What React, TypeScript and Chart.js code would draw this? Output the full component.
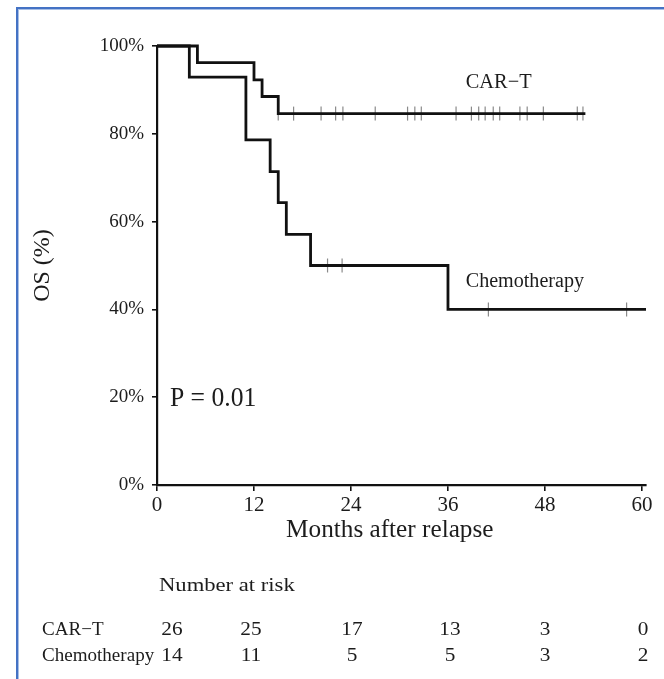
import React, { useEffect, useRef } from "react";
import { Chart, registerables } from "chart.js";

Chart.register(...registerables);

const FONT = "'Liberation Serif', 'Times New Roman', serif";
const INK = "#1c1c1c";

// ---- data ----
const xTickMonths = [0, 12, 24, 36, 48, 60];

const carTTimes = [0, 5, 12, 13, 15, 53];
const carTSurvival = [100, 96.2, 92.3, 88.5, 84.6, 84.6];
const carTCensorTimes = [15, 16.9, 20.3, 22.1, 23.0, 27.0, 31.0, 31.9, 32.7, 37.0, 38.9, 39.8, 40.6, 41.6, 42.4, 44.9, 45.8, 47.8, 52.0, 52.7];

const chemoTimes = [0, 4, 11, 14, 15, 16, 19, 36, 60.5];
const chemoSurvival = [100, 92.9, 78.6, 71.4, 64.3, 57.1, 50.0, 40.0, 40.0];
const chemoCensorTimes = [21.1, 22.9, 41.0, 58.1];

const groupNames = ["CAR\u2212T", "Chemotherapy"];
const carTAtRisk = [26, 25, 17, 13, 3, 0];
const chemoAtRisk = [14, 11, 5, 5, 3, 2];

// ---- layout constants (pixels) ----
const atRiskColumnShift = [15, -3, 1, 2, 0, 1];

function survAt(times: number[], surv: number[], t: number) {
  let s = surv[0];
  for (let i = 0; i < times.length; i++) if (times[i] <= t) s = surv[i];
  return s;
}

const textPlugin = {
  id: "kmText",
  afterDraw(chart: any) {
    const { ctx, chartArea } = chart;
    const xs = chart.scales.x;
    const ys = chart.scales.y;
    const txt = (s: string, x: number, y: number, size: number, sx: number, align: CanvasTextAlign) => {
      ctx.save();
      ctx.font = `${size}px ${FONT}`;
      ctx.fillStyle = INK;
      ctx.textBaseline = "alphabetic";
      ctx.textAlign = align;
      ctx.translate(x, y);
      ctx.scale(sx, 1);
      ctx.fillText(s, 0, 0);
      ctx.restore();
    };
    // curve labels and p-value
    txt(groupNames[0], xs.getPixelForValue(38.2), ys.getPixelForValue(90.4), 21, 0.97, "left");
    txt(groupNames[1], xs.getPixelForValue(38.2), ys.getPixelForValue(45.2), 20.5, 0.98, "left");
    txt("P = 0.01", xs.getPixelForValue(1.6), ys.getPixelForValue(17.9), 27, 0.95, "left");
    // x axis title
    const b = chartArea.bottom;
    txt("Months after relapse", xs.getPixelForValue(28.8), b + 52, 24.5, 1.03, "center");
    // number at risk table
    txt("Number at risk", 159, b + 105.5, 19.5, 1.16, "left");
    const rows = [carTAtRisk, chemoAtRisk];
    const baselines = [b + 150, b + 176];
    rows.forEach((vals, r) => {
      txt(groupNames[r], 42, baselines[r], 18.5, 1.03, "left");
      vals.forEach((v, i) => {
        const x = xs.getPixelForValue(xTickMonths[i]) + atRiskColumnShift[i];
        txt(String(v), x, baselines[r], 18.5, 1.15, "center");
      });
    });
  },
};

export default function App() {
  const ref = useRef<HTMLCanvasElement>(null);

  useEffect(() => {
    const canvas = ref.current;
    if (!canvas) return;

    const curve = (times: number[], surv: number[]) =>
      times.map((t, i) => ({ x: t, y: surv[i] }));
    const censor = (ct: number[], times: number[], surv: number[]) =>
      ct.map((t) => ({ x: t, y: survAt(times, surv, t) }));

    const curveStyle = {
      showLine: true,
      stepped: "before" as const,
      borderColor: "#111",
      borderWidth: 2.8,
      pointRadius: 0,
      fill: false,
      clip: false as const,
    };
    const censorStyle = {
      showLine: false,
      pointStyle: "line" as const,
      rotation: 90,
      pointRadius: 7,
      pointBorderColor: "#8a8a8a",
      pointBorderWidth: 1.2,
      pointBackgroundColor: "#8a8a8a",
      clip: false as const,
    };

    const chart = new Chart(canvas, {
      type: "scatter",
      data: {
        datasets: [
          { label: groupNames[0], data: curve(carTTimes, carTSurvival), ...curveStyle },
          { label: groupNames[1], data: curve(chemoTimes, chemoSurvival), ...curveStyle },
          { label: "CAR-T censored", data: censor(carTCensorTimes, carTTimes, carTSurvival), ...censorStyle },
          { label: "Chemo censored", data: censor(chemoCensorTimes, chemoTimes, chemoSurvival), ...censorStyle },
        ],
      },
      options: {
        responsive: false,
        devicePixelRatio: 1,
        animation: false,
        events: [],
        layout: { padding: { left: 0, top: 46, right: 18, bottom: 0 } },
        plugins: {
          legend: { display: false },
          tooltip: { enabled: false },
        },
        scales: {
          x: {
            type: "linear",
            min: 0,
            max: 60.5,
            afterBuildTicks: (s: any) => {
              s.ticks = xTickMonths.map((v) => ({ value: v }));
            },
            afterFit: (s: any) => {
              s.height = 194;
            },
            ticks: {
              font: { family: FONT, size: 21 },
              color: INK,
              padding: 2,
              maxRotation: 0,
              autoSkip: false,
            },
            grid: {
              display: true,
              drawOnChartArea: false,
              drawTicks: true,
              tickLength: 6,
              color: "#111",
              lineWidth: 1.6,
            },
            border: { display: true, color: "#111", width: 2.2 },
          },
          y: {
            type: "linear",
            min: 0,
            max: 100,
            afterFit: (s: any) => {
              s.width = 157;
            },
            ticks: {
              stepSize: 20,
              font: { family: FONT, size: 19 },
              color: INK,
              padding: 8,
              callback: (v: any) => `${v}%`,
            },
            title: {
              display: true,
              text: "OS (%)",
              font: { family: FONT, size: 24 },
              color: INK,
              padding: { top: 28, bottom: 0 },
            },
            grid: {
              display: true,
              drawOnChartArea: false,
              drawTicks: true,
              tickLength: 5,
              color: "#111",
              lineWidth: 1.6,
            },
            border: { display: true, color: "#111", width: 2.2 },
          },
        },
      },
      plugins: [textPlugin],
    });

    return () => chart.destroy();
  }, []);

  return (
    <div
      style={{
        position: "absolute",
        left: 0,
        top: 0,
        width: 664,
        height: 679,
        background: "#fff",
        overflow: "hidden",
      }}
    >
      <div
        style={{
          position: "absolute",
          left: 16,
          top: 7,
          right: -4,
          bottom: -4,
          borderLeft: "2px solid #4472c4",
          borderTop: "2px solid #4472c4",
          boxShadow: "inset 1px 1px 0 #a8bfe6",
        }}
      />
      <canvas
        ref={ref}
        width={664}
        height={679}
        style={{ position: "absolute", left: 0, top: 0, width: 664, height: 679 }}
      />
    </div>
  );
}
